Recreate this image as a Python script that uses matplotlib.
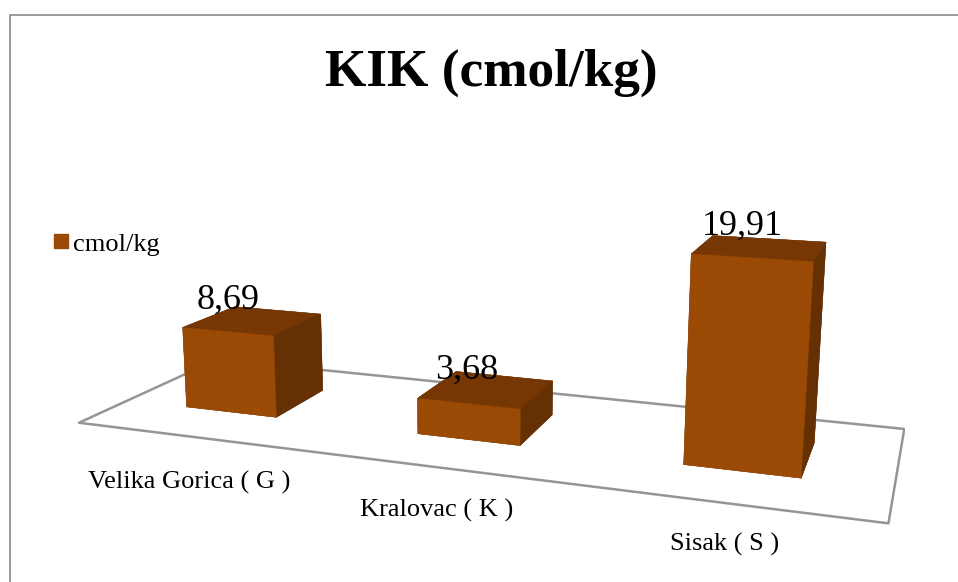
import numpy as np
import matplotlib
matplotlib.use("Agg")
import matplotlib.pyplot as plt
from mpl_toolkits.mplot3d.art3d import Poly3DCollection

# data
categories = ["Velika Gorica ( G )", "Kralovac ( K )", "Sisak ( S )"]
values = [8.69, 3.68, 19.91]
value_labels = ["8,69", "3,68", "19,91"]
series_name = "cmol/kg"
title = "KIK (cmol/kg)"

W, H = 958, 582
plt.rcParams['font.family'] = ['Liberation Serif', 'DejaVu Serif']


def px(x, y):
    # picture pixels (from top left) to figure fractions
    return x / W, 1 - y / H


fig = plt.figure(figsize=(W / 100, H / 100), dpi=100)
# camera fitted against the corners of the bars in the reference
ax = fig.add_axes([0.0533, -0.2777, 0.8906, 1.4660], projection='3d', computed_zorder=False)
ax.set_proj_type('persp', focal_length=0.2863)
ax.view_init(elev=12.5624, azim=-70.3272, roll=-0.1231)
ax.set_box_aspect((3.3, 1.1147, 1.0364))
ax.set_xlim(-0.5, 2.5)
ax.set_ylim(0, 1)
ax.set_zlim(0, 25)
ax.set_xticks([])
ax.set_yticks([])
ax.set_zticks([])
ax.set_axis_off()
ax.patch.set_alpha(0)

# floor
floor = [[(-0.5, 0, 0), (2.5, 0, 0), (2.5, 1, 0), (-0.5, 1, 0)]]
ax.add_collection3d(Poly3DCollection(floor, facecolor='white', edgecolor='#959595', linewidth=1.8, zorder=1))

front, side, top = '#9a4a05', '#653003', '#763705'
bar_x = [-0.0175, 0.9862, 1.9956]
bar_w = 0.4046
bar_y0, bar_y1 = 0.3141, 0.7089
face_cols = [side, top, front, side, side, side]
for i, v in enumerate(values):
    ax.bar3d(bar_x[i] - bar_w / 2, bar_y0, 0, bar_w, bar_y1 - bar_y0, v, color=face_cols, edgecolors=face_cols,
             linewidth=0.3, shade=False, zorder=2 + i)

# labels sit over the bars, as in the reference
label_xy = [(228, 300), (467, 370), (742, 226)]
for (x, y), s in zip(label_xy, value_labels):
    fig.text(*px(x, y), s, fontsize=26, ha='center', va='center', zorder=10)

cat_xy = [(189, 482), (437, 510), (725, 544)]
for (x, y), s in zip(cat_xy, categories):
    fig.text(*px(x, y), s, fontsize=19, ha='center', va='center')

fig.text(*px(491, 73), title, fontsize=38.3, fontweight='bold', ha='center', va='center')

# legend
fig.patches.append(plt.Rectangle(px(54, 248), 14 / W, 14 / H, transform=fig.transFigure, color=front))
fig.text(*px(73, 245), series_name, fontsize=19, va='center')

# outer frame
fig.add_artist(plt.Line2D([10 / W, 10 / W, 1], [0, 1 - 14.5 / H, 1 - 14.5 / H], color='#8a8a8a', lw=1.2))

fig.savefig("out.png", dpi=100)
